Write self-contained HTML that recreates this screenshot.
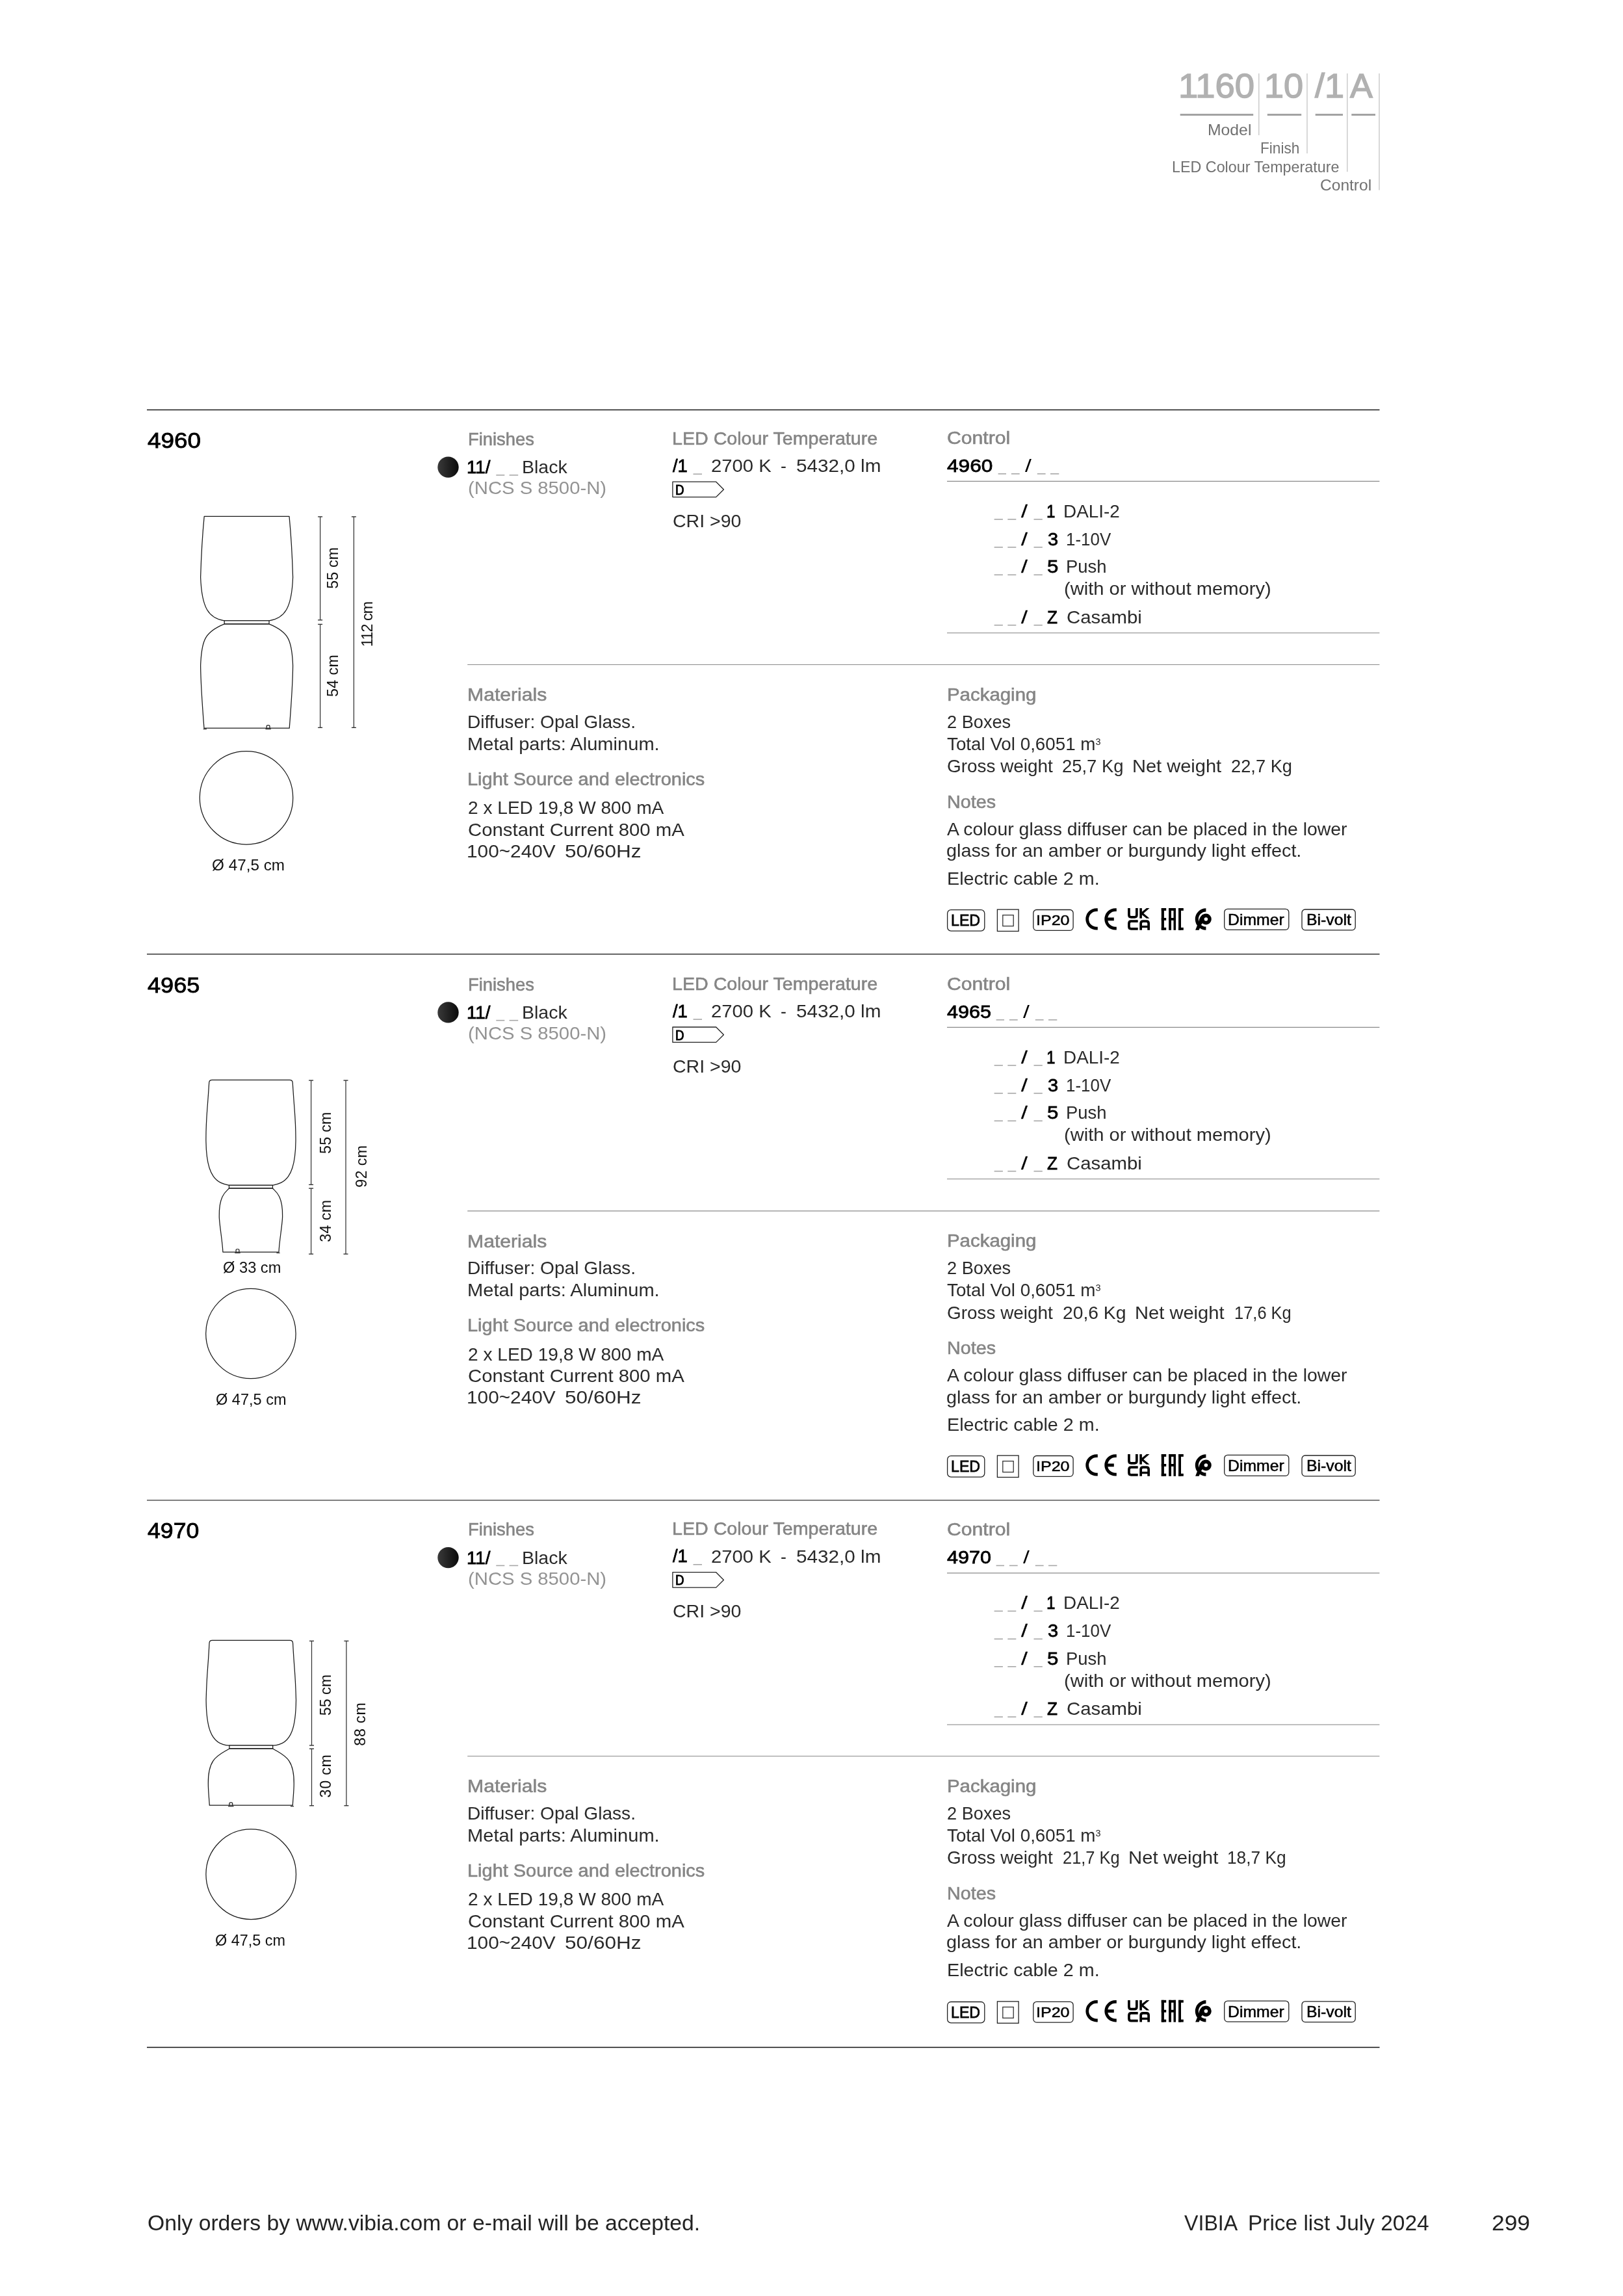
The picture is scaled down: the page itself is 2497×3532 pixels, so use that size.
<!DOCTYPE html>
<html><head><meta charset="utf-8"><title>VIBIA Price list 299</title>
<style>
html,body{margin:0;padding:0;background:#fff;}
body{width:2497px;height:3532px;position:relative;overflow:hidden;font-family:'Liberation Sans', sans-serif;}
.t{position:absolute;white-space:pre;line-height:1;transform-origin:0 0;}
#wrap{position:absolute;left:0;top:0;width:2497px;height:3532px;filter:grayscale(1);}
svg.pg{position:absolute;left:0;top:0;}
</style></head><body>
<div id="wrap">
<svg class="pg" width="2497" height="3532" viewBox="0 0 2497 3532">
<defs><linearGradient id="dotg" x1="0" y1="0" x2="1" y2="0"><stop offset="0" stop-color="#3a3a3a"/><stop offset="1" stop-color="#0a0a0a"/></linearGradient></defs>
<rect x="1815.7" y="175" width="112.5" height="3" fill="#a3a3a3"/>
<rect x="1949.8" y="175" width="52.40000000000009" height="3" fill="#a3a3a3"/>
<rect x="2023.7" y="175" width="42.299999999999955" height="3" fill="#a3a3a3"/>
<rect x="2079.3" y="175" width="36.69999999999982" height="3" fill="#a3a3a3"/>
<line x1="1936.8" y1="113" x2="1936.8" y2="207.9" stroke="#c4c4c4" stroke-width="1.3"/>
<line x1="2011" y1="113" x2="2011" y2="236.1" stroke="#c4c4c4" stroke-width="1.3"/>
<line x1="2072.8" y1="113" x2="2072.8" y2="264.2" stroke="#c4c4c4" stroke-width="1.3"/>
<line x1="2122" y1="113" x2="2122" y2="292.5" stroke="#c4c4c4" stroke-width="1.3"/>
<line x1="226" y1="630.5" x2="2122.5" y2="630.5" stroke="#1a1a1a" stroke-width="1.3"/>
<line x1="226" y1="1467.8" x2="2122.5" y2="1467.8" stroke="#333" stroke-width="1.4"/>
<line x1="226" y1="2307.9" x2="2122.5" y2="2307.9" stroke="#333" stroke-width="1.4"/>
<line x1="226" y1="3149.5" x2="2122.5" y2="3149.5" stroke="#111" stroke-width="1.3"/>
<rect x="763.3" y="730.1" width="13.0" height="1.6" fill="#a8a8a8"/>
<rect x="783.6" y="730.1" width="13.600000000000023" height="1.6" fill="#a8a8a8"/>
<rect x="1066.5" y="728.5" width="13.5" height="1.6" fill="#a8a8a8"/>
<rect x="1535.6" y="728.1" width="12.400000000000091" height="1.6" fill="#a8a8a8"/>
<rect x="1555.9" y="728.1" width="12.799999999999955" height="1.6" fill="#a8a8a8"/>
<rect x="1595.8" y="728.1" width="12.799999999999955" height="1.6" fill="#a8a8a8"/>
<rect x="1616.0" y="728.1" width="13.299999999999955" height="1.6" fill="#a8a8a8"/>
<line x1="1457" y1="740.3" x2="2122.4" y2="740.3" stroke="#8a8a8a" stroke-width="1.2"/>
<rect x="1529.6" y="798.1" width="13.300000000000182" height="1.6" fill="#a8a8a8"/>
<rect x="1550.3" y="798.1" width="13.0" height="1.6" fill="#a8a8a8"/>
<rect x="1590.5" y="798.1" width="13.299999999999955" height="1.6" fill="#a8a8a8"/>
<rect x="1529.6" y="841.0000000000001" width="13.300000000000182" height="1.6" fill="#a8a8a8"/>
<rect x="1550.3" y="841.0000000000001" width="13.0" height="1.6" fill="#a8a8a8"/>
<rect x="1590.5" y="841.0000000000001" width="13.299999999999955" height="1.6" fill="#a8a8a8"/>
<rect x="1529.6" y="883.5000000000001" width="13.300000000000182" height="1.6" fill="#a8a8a8"/>
<rect x="1550.3" y="883.5000000000001" width="13.0" height="1.6" fill="#a8a8a8"/>
<rect x="1590.5" y="883.5000000000001" width="13.299999999999955" height="1.6" fill="#a8a8a8"/>
<rect x="1529.6" y="960.9000000000001" width="13.300000000000182" height="1.6" fill="#a8a8a8"/>
<rect x="1550.3" y="960.9000000000001" width="13.0" height="1.6" fill="#a8a8a8"/>
<rect x="1590.5" y="960.9000000000001" width="13.299999999999955" height="1.6" fill="#a8a8a8"/>
<line x1="1457" y1="973.6" x2="2122.4" y2="973.6" stroke="#9a9a9a" stroke-width="1.2"/>
<line x1="719.2" y1="1022.5" x2="2122.4" y2="1022.5" stroke="#8a8a8a" stroke-width="1.2"/>
<rect x="763.3" y="1568.8999999999999" width="13.0" height="1.6" fill="#a8a8a8"/>
<rect x="783.6" y="1568.8999999999999" width="13.600000000000023" height="1.6" fill="#a8a8a8"/>
<rect x="1066.5" y="1567.3" width="13.5" height="1.6" fill="#a8a8a8"/>
<rect x="1532.6" y="1568.1000000000001" width="12.400000000000091" height="1.6" fill="#a8a8a8"/>
<rect x="1552.9" y="1568.1000000000001" width="12.799999999999955" height="1.6" fill="#a8a8a8"/>
<rect x="1592.8" y="1568.1000000000001" width="12.799999999999955" height="1.6" fill="#a8a8a8"/>
<rect x="1613.0" y="1568.1000000000001" width="13.299999999999955" height="1.6" fill="#a8a8a8"/>
<line x1="1457" y1="1580.3" x2="2122.4" y2="1580.3" stroke="#8a8a8a" stroke-width="1.2"/>
<rect x="1529.6" y="1638.1000000000001" width="13.300000000000182" height="1.6" fill="#a8a8a8"/>
<rect x="1550.3" y="1638.1000000000001" width="13.0" height="1.6" fill="#a8a8a8"/>
<rect x="1590.5" y="1638.1000000000001" width="13.299999999999955" height="1.6" fill="#a8a8a8"/>
<rect x="1529.6" y="1681.0000000000002" width="13.300000000000182" height="1.6" fill="#a8a8a8"/>
<rect x="1550.3" y="1681.0000000000002" width="13.0" height="1.6" fill="#a8a8a8"/>
<rect x="1590.5" y="1681.0000000000002" width="13.299999999999955" height="1.6" fill="#a8a8a8"/>
<rect x="1529.6" y="1723.5000000000002" width="13.300000000000182" height="1.6" fill="#a8a8a8"/>
<rect x="1550.3" y="1723.5000000000002" width="13.0" height="1.6" fill="#a8a8a8"/>
<rect x="1590.5" y="1723.5000000000002" width="13.299999999999955" height="1.6" fill="#a8a8a8"/>
<rect x="1529.6" y="1800.9" width="13.300000000000182" height="1.6" fill="#a8a8a8"/>
<rect x="1550.3" y="1800.9" width="13.0" height="1.6" fill="#a8a8a8"/>
<rect x="1590.5" y="1800.9" width="13.299999999999955" height="1.6" fill="#a8a8a8"/>
<line x1="1457" y1="1813.6" x2="2122.4" y2="1813.6" stroke="#9a9a9a" stroke-width="1.2"/>
<line x1="719.2" y1="1862.8" x2="2122.4" y2="1862.8" stroke="#8a8a8a" stroke-width="1.2"/>
<rect x="763.3" y="2407.6" width="13.0" height="1.6" fill="#a8a8a8"/>
<rect x="783.6" y="2407.6" width="13.600000000000023" height="1.6" fill="#a8a8a8"/>
<rect x="1066.5" y="2406.0" width="13.5" height="1.6" fill="#a8a8a8"/>
<rect x="1532.6" y="2407.6" width="12.400000000000091" height="1.6" fill="#a8a8a8"/>
<rect x="1552.9" y="2407.6" width="12.799999999999955" height="1.6" fill="#a8a8a8"/>
<rect x="1592.8" y="2407.6" width="12.799999999999955" height="1.6" fill="#a8a8a8"/>
<rect x="1613.0" y="2407.6" width="13.299999999999955" height="1.6" fill="#a8a8a8"/>
<line x1="1457" y1="2419.8" x2="2122.4" y2="2419.8" stroke="#8a8a8a" stroke-width="1.2"/>
<rect x="1529.6" y="2477.6" width="13.300000000000182" height="1.6" fill="#a8a8a8"/>
<rect x="1550.3" y="2477.6" width="13.0" height="1.6" fill="#a8a8a8"/>
<rect x="1590.5" y="2477.6" width="13.299999999999955" height="1.6" fill="#a8a8a8"/>
<rect x="1529.6" y="2520.5" width="13.300000000000182" height="1.6" fill="#a8a8a8"/>
<rect x="1550.3" y="2520.5" width="13.0" height="1.6" fill="#a8a8a8"/>
<rect x="1590.5" y="2520.5" width="13.299999999999955" height="1.6" fill="#a8a8a8"/>
<rect x="1529.6" y="2563.0" width="13.300000000000182" height="1.6" fill="#a8a8a8"/>
<rect x="1550.3" y="2563.0" width="13.0" height="1.6" fill="#a8a8a8"/>
<rect x="1590.5" y="2563.0" width="13.299999999999955" height="1.6" fill="#a8a8a8"/>
<rect x="1529.6" y="2640.3999999999996" width="13.300000000000182" height="1.6" fill="#a8a8a8"/>
<rect x="1550.3" y="2640.3999999999996" width="13.0" height="1.6" fill="#a8a8a8"/>
<rect x="1590.5" y="2640.3999999999996" width="13.299999999999955" height="1.6" fill="#a8a8a8"/>
<line x1="1457" y1="2653.1" x2="2122.4" y2="2653.1" stroke="#9a9a9a" stroke-width="1.2"/>
<line x1="719.2" y1="2701.5" x2="2122.4" y2="2701.5" stroke="#8a8a8a" stroke-width="1.2"/>
<path d="M 314.20,794.40 L 445.00,794.40 C 446.67,811.70 449.19,838.90 450.60,888.00 C 448.83,936.17 437.83,950.73 414.20,954.90 L 345.00,954.90 C 321.37,950.73 310.37,936.17 308.60,888.00 C 310.01,838.90 312.53,811.70 314.20,794.40 Z" fill="none" stroke="#1a1a1a" stroke-width="1.25" stroke-linejoin="round"/>
<rect x="345.20" y="954.80" width="68.80" height="5.10" fill="#fff" stroke="#1a1a1a" stroke-width="1.25"/>
<path d="M 413.90,959.90 C 443.76,972.10 449.21,984.14 450.60,1024.00 C 450.38,1048.11 447.87,1086.31 445.20,1120.20 L 314.00,1120.20 C 311.33,1086.31 308.82,1048.11 308.60,1024.00 C 309.99,984.14 315.44,972.10 345.30,959.90 Z" fill="none" stroke="#1a1a1a" stroke-width="1.25" stroke-linejoin="round"/>
<path d="M 410.20,1120.20 L 410.20,1117.40 Q 410.20,1115.60 412.60,1115.60 Q 415.00,1115.60 415.00,1117.40 L 415.00,1120.20" fill="none" stroke="#1a1a1a" stroke-width="1.2" stroke-linejoin="round"/>
<path d="M 408.40,1121.50 L 416.80,1121.50" fill="none" stroke="#1a1a1a" stroke-width="1.1" stroke-linejoin="round"/>
<path d="M 312.70,1121.50 L 317.90,1121.50" fill="none" stroke="#1a1a1a" stroke-width="1.1" stroke-linejoin="round"/>
<line x1="492.6" y1="794.9" x2="492.6" y2="953.8" stroke="#333" stroke-width="1.25"/>
<line x1="489.1" y1="794.9" x2="496.1" y2="794.9" stroke="#333" stroke-width="1.4"/>
<line x1="489.1" y1="953.8" x2="496.1" y2="953.8" stroke="#333" stroke-width="1.4"/>
<line x1="492.6" y1="960.4" x2="492.6" y2="1119.3" stroke="#333" stroke-width="1.25"/>
<line x1="489.1" y1="960.4" x2="496.1" y2="960.4" stroke="#333" stroke-width="1.4"/>
<line x1="489.1" y1="1119.3" x2="496.1" y2="1119.3" stroke="#333" stroke-width="1.4"/>
<line x1="544.4" y1="794.9" x2="544.4" y2="1119.3" stroke="#333" stroke-width="1.25"/>
<line x1="540.9" y1="794.9" x2="547.9" y2="794.9" stroke="#333" stroke-width="1.4"/>
<line x1="540.9" y1="1119.3" x2="547.9" y2="1119.3" stroke="#333" stroke-width="1.4"/>
<text transform="translate(520.30,873.80) rotate(-90)" text-anchor="middle" font-family="Liberation Sans" font-size="23.2" fill="#111" textLength="64.0" lengthAdjust="spacing">55 cm</text>
<text transform="translate(520.30,1039.60) rotate(-90)" text-anchor="middle" font-family="Liberation Sans" font-size="23.2" fill="#111" textLength="64.8" lengthAdjust="spacing">54 cm</text>
<text transform="translate(572.50,959.90) rotate(-90)" text-anchor="middle" font-family="Liberation Sans" font-size="23.2" fill="#111" textLength="70.1" lengthAdjust="spacing">112 cm</text>
<circle cx="379.0" cy="1227.3" r="71.7" fill="none" stroke="#1a1a1a" stroke-width="1.25"/>
<path d="M 321.65,1666.00 Q 321.65,1661.40 326.25,1661.40 L 445.65,1661.40 Q 450.25,1661.40 450.25,1666.00 C 453.25,1715.17 455.22,1721.34 455.00,1755.00 C 454.55,1812.98 436.93,1819.98 419.50,1823.30 L 352.40,1823.30 C 334.97,1819.98 317.35,1812.98 316.90,1755.00 C 316.68,1721.34 318.65,1715.17 321.65,1666.00 Z" fill="none" stroke="#1a1a1a" stroke-width="1.25" stroke-linejoin="round"/>
<rect x="352.45" y="1823.30" width="67.00" height="4.60" fill="#fff" stroke="#1a1a1a" stroke-width="1.25"/>
<path d="M 419.40,1827.90 C 421.80,1831.68 435.12,1836.40 434.60,1870.50 C 435.01,1879.94 429.47,1910.58 429.00,1926.10 L 342.90,1926.10 C 342.43,1910.58 336.89,1879.94 337.30,1870.50 C 336.78,1836.40 350.10,1831.68 352.50,1827.90 Z" fill="none" stroke="#1a1a1a" stroke-width="1.25" stroke-linejoin="round"/>
<path d="M 363.10,1926.10 L 363.10,1923.30 Q 363.10,1921.50 365.50,1921.50 Q 367.90,1921.50 367.90,1923.30 L 367.90,1926.10" fill="none" stroke="#1a1a1a" stroke-width="1.2" stroke-linejoin="round"/>
<path d="M 361.30,1927.40 L 369.70,1927.40" fill="none" stroke="#1a1a1a" stroke-width="1.1" stroke-linejoin="round"/>
<path d="M 425.40,1927.40 L 430.60,1927.40" fill="none" stroke="#1a1a1a" stroke-width="1.1" stroke-linejoin="round"/>
<line x1="478.6" y1="1662.0" x2="478.6" y2="1822.4" stroke="#333" stroke-width="1.25"/>
<line x1="475.1" y1="1662.0" x2="482.1" y2="1662.0" stroke="#333" stroke-width="1.4"/>
<line x1="475.1" y1="1822.4" x2="482.1" y2="1822.4" stroke="#333" stroke-width="1.4"/>
<line x1="478.6" y1="1828.1" x2="478.6" y2="1929.1" stroke="#333" stroke-width="1.25"/>
<line x1="475.1" y1="1828.1" x2="482.1" y2="1828.1" stroke="#333" stroke-width="1.4"/>
<line x1="475.1" y1="1929.1" x2="482.1" y2="1929.1" stroke="#333" stroke-width="1.4"/>
<line x1="532.0" y1="1662.0" x2="532.0" y2="1929.1" stroke="#333" stroke-width="1.25"/>
<line x1="528.5" y1="1662.0" x2="535.5" y2="1662.0" stroke="#333" stroke-width="1.4"/>
<line x1="528.5" y1="1929.1" x2="535.5" y2="1929.1" stroke="#333" stroke-width="1.4"/>
<text transform="translate(509.30,1742.80) rotate(-90)" text-anchor="middle" font-family="Liberation Sans" font-size="23.2" fill="#111" textLength="64.4" lengthAdjust="spacing">55 cm</text>
<text transform="translate(509.30,1878.30) rotate(-90)" text-anchor="middle" font-family="Liberation Sans" font-size="23.2" fill="#111" textLength="65.0" lengthAdjust="spacing">34 cm</text>
<text transform="translate(563.60,1794.30) rotate(-90)" text-anchor="middle" font-family="Liberation Sans" font-size="23.2" fill="#111" textLength="65.0" lengthAdjust="spacing">92 cm</text>
<circle cx="385.9" cy="2051.5" r="69.2" fill="none" stroke="#1a1a1a" stroke-width="1.25"/>
<path d="M 322.00,2528.00 Q 322.00,2523.40 326.60,2523.40 L 446.00,2523.40 Q 450.60,2523.40 450.60,2528.00 C 452.70,2570.54 454.25,2568.55 455.50,2615.00 C 455.14,2650.93 450.75,2684.47 420.20,2685.00 L 352.40,2685.00 C 321.85,2684.47 317.46,2650.93 317.10,2615.00 C 318.35,2568.55 319.90,2570.54 322.00,2528.00 Z" fill="none" stroke="#1a1a1a" stroke-width="1.25" stroke-linejoin="round"/>
<rect x="352.90" y="2685.00" width="66.80" height="4.90" fill="#fff" stroke="#1a1a1a" stroke-width="1.25"/>
<path d="M 419.70,2689.90 C 435.37,2700.12 452.90,2703.08 452.25,2744.10 C 452.25,2755.00 450.90,2766.00 450.30,2777.20 L 322.30,2777.20 C 321.70,2766.00 320.35,2755.00 320.35,2744.10 C 319.70,2703.08 337.23,2700.12 352.90,2689.90 Z" fill="none" stroke="#1a1a1a" stroke-width="1.25" stroke-linejoin="round"/>
<path d="M 352.90,2777.40 L 352.90,2774.60 Q 352.90,2772.80 355.30,2772.80 Q 357.70,2772.80 357.70,2774.60 L 357.70,2777.40" fill="none" stroke="#1a1a1a" stroke-width="1.2" stroke-linejoin="round"/>
<path d="M 351.10,2778.70 L 359.50,2778.70" fill="none" stroke="#1a1a1a" stroke-width="1.1" stroke-linejoin="round"/>
<path d="M 446.90,2778.70 L 452.10,2778.70" fill="none" stroke="#1a1a1a" stroke-width="1.1" stroke-linejoin="round"/>
<line x1="479.5" y1="2524.4" x2="479.5" y2="2685.0" stroke="#333" stroke-width="1.25"/>
<line x1="476.0" y1="2524.4" x2="483.0" y2="2524.4" stroke="#333" stroke-width="1.4"/>
<line x1="476.0" y1="2685.0" x2="483.0" y2="2685.0" stroke="#333" stroke-width="1.4"/>
<line x1="479.5" y1="2690.2" x2="479.5" y2="2777.7" stroke="#333" stroke-width="1.25"/>
<line x1="476.0" y1="2690.2" x2="483.0" y2="2690.2" stroke="#333" stroke-width="1.4"/>
<line x1="476.0" y1="2777.7" x2="483.0" y2="2777.7" stroke="#333" stroke-width="1.4"/>
<line x1="532.9" y1="2524.4" x2="532.9" y2="2777.7" stroke="#333" stroke-width="1.25"/>
<line x1="529.4" y1="2524.4" x2="536.4" y2="2524.4" stroke="#333" stroke-width="1.4"/>
<line x1="529.4" y1="2777.7" x2="536.4" y2="2777.7" stroke="#333" stroke-width="1.4"/>
<text transform="translate(509.40,2607.60) rotate(-90)" text-anchor="middle" font-family="Liberation Sans" font-size="23.2" fill="#111" textLength="63.4" lengthAdjust="spacing">55 cm</text>
<text transform="translate(509.40,2732.30) rotate(-90)" text-anchor="middle" font-family="Liberation Sans" font-size="23.2" fill="#111" textLength="66.5" lengthAdjust="spacing">30 cm</text>
<text transform="translate(562.40,2652.40) rotate(-90)" text-anchor="middle" font-family="Liberation Sans" font-size="23.2" fill="#111" textLength="66.5" lengthAdjust="spacing">88 cm</text>
<circle cx="386.2" cy="2883.2" r="69.3" fill="none" stroke="#1a1a1a" stroke-width="1.25"/>
<circle cx="689.5" cy="718.6" r="16.2" fill="url(#dotg)"/>
<path d="M 1034.9,741.2 L 1101.7,741.2 L 1113.4,753 L 1101.7,764.6 L 1034.9,764.6 Z" fill="none" stroke="#222" stroke-width="1.3" stroke-linejoin="round"/>
<rect x="1457.6" y="1399.7" width="57.2" height="32.4" rx="5.5" fill="none" stroke="#222" stroke-width="1.3"/>
<rect x="1534.4" y="1399.1" width="32.7" height="33.4" fill="none" stroke="#222" stroke-width="1.3"/>
<rect x="1542.8" y="1407.7" width="16.4" height="16.9" fill="none" stroke="#333" stroke-width="1.3"/>
<rect x="1589.8" y="1399.5" width="61.3" height="31.8" rx="5" fill="none" stroke="#222" stroke-width="1.3"/>
<path d="M 1688.8,1397.2 L 1687.0,1397.2 A 16.7 16.7 0 0 0 1687.0,1430.6 L 1688.8,1430.6 L 1688.8,1425.8 L 1687.0,1425.8 A 11.9 11.9 0 0 1 1687.0,1402.0 L 1688.8,1402.0 Z" fill="#000"/>
<path d="M 1717.8,1397.2 L 1716.0,1397.2 A 16.7 16.7 0 0 0 1716.0,1430.6 L 1717.8,1430.6 L 1717.8,1425.8 L 1716.0,1425.8 A 11.9 11.9 0 0 1 1716.0,1402.0 L 1717.8,1402.0 Z" fill="#000"/>
<rect x="1703.2" y="1411.5" width="10.6" height="4.8" fill="#000"/>
<path d="M 1736.95,1397.1 V 1407.5 Q 1736.95,1410.85 1740.3,1410.85 H 1745.5 Q 1748.85,1410.85 1748.85,1407.5 V 1397.1" fill="none" stroke="#000" stroke-width="3.7"/>
<rect x="1753.3" y="1397.1" width="3.6" height="15.6" fill="#000"/>
<path d="M 1756.5,1402.9 L 1763.9,1397.1 L 1768.5,1397.1 L 1759.4,1404.9 L 1768.5,1412.7 L 1763.9,1412.7 L 1756.5,1406.9 Z" fill="#000"/>
<path d="M 1750.7,1417.15 H 1740.3 Q 1736.95,1417.15 1736.95,1420.5 V 1425.5 Q 1736.95,1428.85 1740.3,1428.85 H 1750.7" fill="none" stroke="#000" stroke-width="3.7"/>
<path d="M 1755.15,1430.7 V 1420.5 Q 1755.15,1417.15 1758.5,1417.15 H 1763.8 Q 1767.15,1417.15 1767.15,1420.5 V 1430.7" fill="none" stroke="#000" stroke-width="3.7"/>
<rect x="1755" y="1423.9" width="12" height="3.3" fill="#000"/>
<rect x="1786.8" y="1397.0" width="4.1" height="33.8" fill="#000"/>
<rect x="1798.1" y="1397.0" width="3.9" height="33.8" fill="#000"/>
<rect x="1805.5" y="1397.0" width="3.5" height="33.8" fill="#000"/>
<rect x="1813.1" y="1397.0" width="3.9" height="33.8" fill="#000"/>
<rect x="1786.8" y="1397.0" width="7.4" height="3.9" fill="#000"/>
<rect x="1786.8" y="1412.0" width="7.4" height="3.9" fill="#000"/>
<rect x="1786.8" y="1426.9" width="7.4" height="3.9" fill="#000"/>
<rect x="1798.1" y="1397.0" width="10.9" height="3.9" fill="#000"/>
<rect x="1798.1" y="1412.0" width="10.9" height="3.9" fill="#000"/>
<rect x="1813.1" y="1397.0" width="7.7" height="3.9" fill="#000"/>
<rect x="1813.1" y="1426.9" width="7.7" height="3.9" fill="#000"/>
<path d="M 1855.4,1397.3 A 16.7 16.7 0 0 0 1855.4,1430.7 L 1855.4,1425.5 A 11.5 11.5 0 0 1 1855.4,1402.5 Z" fill="#000"/>
<circle cx="1855.4" cy="1414.0" r="5.6" fill="none" stroke="#000" stroke-width="5.6"/>
<path d="M 1850.5,1406.3 L 1846.8,1410.5 L 1845.3,1413.5 L 1844.3,1417.2 L 1841.8,1424.1 L 1839.1,1430.7 L 1844.6,1430.7 L 1848.2,1422.5 L 1850.5,1419.5 Z" fill="#000"/>
<rect x="1883.7" y="1398.3" width="99.1" height="32.0" rx="5" fill="none" stroke="#222" stroke-width="1.3"/>
<rect x="2003.0" y="1399.0" width="82.2" height="31.8" rx="5" fill="none" stroke="#222" stroke-width="1.3"/>
<circle cx="689.5" cy="1557.4" r="16.2" fill="url(#dotg)"/>
<path d="M 1034.9,1580.0 L 1101.7,1580.0 L 1113.4,1591.8 L 1101.7,1603.4 L 1034.9,1603.4 Z" fill="none" stroke="#222" stroke-width="1.3" stroke-linejoin="round"/>
<rect x="1457.6" y="2239.7" width="57.2" height="32.4" rx="5.5" fill="none" stroke="#222" stroke-width="1.3"/>
<rect x="1534.4" y="2239.1" width="32.7" height="33.4" fill="none" stroke="#222" stroke-width="1.3"/>
<rect x="1542.8" y="2247.7" width="16.4" height="16.9" fill="none" stroke="#333" stroke-width="1.3"/>
<rect x="1589.8" y="2239.5" width="61.3" height="31.8" rx="5" fill="none" stroke="#222" stroke-width="1.3"/>
<path d="M 1688.8,2237.2 L 1687.0,2237.2 A 16.7 16.7 0 0 0 1687.0,2270.6 L 1688.8,2270.6 L 1688.8,2265.8 L 1687.0,2265.8 A 11.9 11.9 0 0 1 1687.0,2242.0 L 1688.8,2242.0 Z" fill="#000"/>
<path d="M 1717.8,2237.2 L 1716.0,2237.2 A 16.7 16.7 0 0 0 1716.0,2270.6 L 1717.8,2270.6 L 1717.8,2265.8 L 1716.0,2265.8 A 11.9 11.9 0 0 1 1716.0,2242.0 L 1717.8,2242.0 Z" fill="#000"/>
<rect x="1703.2" y="2251.5" width="10.6" height="4.8" fill="#000"/>
<path d="M 1736.95,2237.1 V 2247.5 Q 1736.95,2250.85 1740.3,2250.85 H 1745.5 Q 1748.85,2250.85 1748.85,2247.5 V 2237.1" fill="none" stroke="#000" stroke-width="3.7"/>
<rect x="1753.3" y="2237.1" width="3.6" height="15.6" fill="#000"/>
<path d="M 1756.5,2242.9 L 1763.9,2237.1 L 1768.5,2237.1 L 1759.4,2244.9 L 1768.5,2252.7 L 1763.9,2252.7 L 1756.5,2246.9 Z" fill="#000"/>
<path d="M 1750.7,2257.15 H 1740.3 Q 1736.95,2257.15 1736.95,2260.5 V 2265.5 Q 1736.95,2268.85 1740.3,2268.85 H 1750.7" fill="none" stroke="#000" stroke-width="3.7"/>
<path d="M 1755.15,2270.7 V 2260.5 Q 1755.15,2257.15 1758.5,2257.15 H 1763.8 Q 1767.15,2257.15 1767.15,2260.5 V 2270.7" fill="none" stroke="#000" stroke-width="3.7"/>
<rect x="1755" y="2263.9" width="12" height="3.3" fill="#000"/>
<rect x="1786.8" y="2237.0" width="4.1" height="33.8" fill="#000"/>
<rect x="1798.1" y="2237.0" width="3.9" height="33.8" fill="#000"/>
<rect x="1805.5" y="2237.0" width="3.5" height="33.8" fill="#000"/>
<rect x="1813.1" y="2237.0" width="3.9" height="33.8" fill="#000"/>
<rect x="1786.8" y="2237.0" width="7.4" height="3.9" fill="#000"/>
<rect x="1786.8" y="2252.0" width="7.4" height="3.9" fill="#000"/>
<rect x="1786.8" y="2266.9" width="7.4" height="3.9" fill="#000"/>
<rect x="1798.1" y="2237.0" width="10.9" height="3.9" fill="#000"/>
<rect x="1798.1" y="2252.0" width="10.9" height="3.9" fill="#000"/>
<rect x="1813.1" y="2237.0" width="7.7" height="3.9" fill="#000"/>
<rect x="1813.1" y="2266.9" width="7.7" height="3.9" fill="#000"/>
<path d="M 1855.4,2237.3 A 16.7 16.7 0 0 0 1855.4,2270.7 L 1855.4,2265.5 A 11.5 11.5 0 0 1 1855.4,2242.5 Z" fill="#000"/>
<circle cx="1855.4" cy="2254.0" r="5.6" fill="none" stroke="#000" stroke-width="5.6"/>
<path d="M 1850.5,2246.3 L 1846.8,2250.5 L 1845.3,2253.5 L 1844.3,2257.2 L 1841.8,2264.1 L 1839.1,2270.7 L 1844.6,2270.7 L 1848.2,2262.5 L 1850.5,2259.5 Z" fill="#000"/>
<rect x="1883.7" y="2238.3" width="99.1" height="32.0" rx="5" fill="none" stroke="#222" stroke-width="1.3"/>
<rect x="2003.0" y="2239.0" width="82.2" height="31.8" rx="5" fill="none" stroke="#222" stroke-width="1.3"/>
<circle cx="689.5" cy="2396.1" r="16.2" fill="url(#dotg)"/>
<path d="M 1034.9,2418.7 L 1101.7,2418.7 L 1113.4,2430.5 L 1101.7,2442.1 L 1034.9,2442.1 Z" fill="none" stroke="#222" stroke-width="1.3" stroke-linejoin="round"/>
<rect x="1457.6" y="3079.5" width="57.2" height="32.4" rx="5.5" fill="none" stroke="#222" stroke-width="1.3"/>
<rect x="1534.4" y="3078.9" width="32.7" height="33.4" fill="none" stroke="#222" stroke-width="1.3"/>
<rect x="1542.8" y="3087.5" width="16.4" height="16.9" fill="none" stroke="#333" stroke-width="1.3"/>
<rect x="1589.8" y="3079.3" width="61.3" height="31.8" rx="5" fill="none" stroke="#222" stroke-width="1.3"/>
<path d="M 1688.8,3077.0 L 1687.0,3077.0 A 16.7 16.7 0 0 0 1687.0,3110.4 L 1688.8,3110.4 L 1688.8,3105.6 L 1687.0,3105.6 A 11.9 11.9 0 0 1 1687.0,3081.8 L 1688.8,3081.8 Z" fill="#000"/>
<path d="M 1717.8,3077.0 L 1716.0,3077.0 A 16.7 16.7 0 0 0 1716.0,3110.4 L 1717.8,3110.4 L 1717.8,3105.6 L 1716.0,3105.6 A 11.9 11.9 0 0 1 1716.0,3081.8 L 1717.8,3081.8 Z" fill="#000"/>
<rect x="1703.2" y="3091.3" width="10.6" height="4.8" fill="#000"/>
<path d="M 1736.95,3076.8999999999996 V 3087.3 Q 1736.95,3090.6499999999996 1740.3,3090.6499999999996 H 1745.5 Q 1748.85,3090.6499999999996 1748.85,3087.3 V 3076.8999999999996" fill="none" stroke="#000" stroke-width="3.7"/>
<rect x="1753.3" y="3076.8999999999996" width="3.6" height="15.6" fill="#000"/>
<path d="M 1756.5,3082.7 L 1763.9,3076.8999999999996 L 1768.5,3076.8999999999996 L 1759.4,3084.7 L 1768.5,3092.5 L 1763.9,3092.5 L 1756.5,3086.7 Z" fill="#000"/>
<path d="M 1750.7,3096.95 H 1740.3 Q 1736.95,3096.95 1736.95,3100.3 V 3105.3 Q 1736.95,3108.6499999999996 1740.3,3108.6499999999996 H 1750.7" fill="none" stroke="#000" stroke-width="3.7"/>
<path d="M 1755.15,3110.5 V 3100.3 Q 1755.15,3096.95 1758.5,3096.95 H 1763.8 Q 1767.15,3096.95 1767.15,3100.3 V 3110.5" fill="none" stroke="#000" stroke-width="3.7"/>
<rect x="1755" y="3103.7" width="12" height="3.3" fill="#000"/>
<rect x="1786.8" y="3076.8" width="4.1" height="33.8" fill="#000"/>
<rect x="1798.1" y="3076.8" width="3.9" height="33.8" fill="#000"/>
<rect x="1805.5" y="3076.8" width="3.5" height="33.8" fill="#000"/>
<rect x="1813.1" y="3076.8" width="3.9" height="33.8" fill="#000"/>
<rect x="1786.8" y="3076.8" width="7.4" height="3.9" fill="#000"/>
<rect x="1786.8" y="3091.8" width="7.4" height="3.9" fill="#000"/>
<rect x="1786.8" y="3106.7" width="7.4" height="3.9" fill="#000"/>
<rect x="1798.1" y="3076.8" width="10.9" height="3.9" fill="#000"/>
<rect x="1798.1" y="3091.8" width="10.9" height="3.9" fill="#000"/>
<rect x="1813.1" y="3076.8" width="7.7" height="3.9" fill="#000"/>
<rect x="1813.1" y="3106.7" width="7.7" height="3.9" fill="#000"/>
<path d="M 1855.4,3077.1 A 16.7 16.7 0 0 0 1855.4,3110.5 L 1855.4,3105.3 A 11.5 11.5 0 0 1 1855.4,3082.3 Z" fill="#000"/>
<circle cx="1855.4" cy="3093.8" r="5.6" fill="none" stroke="#000" stroke-width="5.6"/>
<path d="M 1850.5,3086.1 L 1846.8,3090.3 L 1845.3,3093.3 L 1844.3,3097.0 L 1841.8,3103.9 L 1839.1,3110.5 L 1844.6,3110.5 L 1848.2,3102.3 L 1850.5,3099.3 Z" fill="#000"/>
<rect x="1883.7" y="3078.1" width="99.1" height="32.0" rx="5" fill="none" stroke="#222" stroke-width="1.3"/>
<rect x="2003.0" y="3078.8" width="82.2" height="31.8" rx="5" fill="none" stroke="#222" stroke-width="1.3"/>
</svg>

<div id="t0" class="t" style="left:1813.16px;top:105.60px;font-size:52px;color:#b1b1b1;letter-spacing:0.000px;-webkit-text-stroke:1.4px #b1b1b1;transform:scaleX(1.0468);">1160</div>
<div id="t1" class="t" style="left:1944.58px;top:105.60px;font-size:52px;color:#b1b1b1;letter-spacing:0.000px;-webkit-text-stroke:1.4px #b1b1b1;transform:scaleX(1.0412);">10</div>
<div id="t2" class="t" style="left:2022.50px;top:105.60px;font-size:52px;color:#b1b1b1;letter-spacing:-0.000px;-webkit-text-stroke:1.4px #b1b1b1;transform:scaleX(1.0399);">/1</div>
<div id="t3" class="t" style="left:2077.00px;top:105.60px;font-size:52px;color:#b1b1b1;letter-spacing:0.000px;-webkit-text-stroke:1.4px #b1b1b1;transform:scaleX(1.0057);">A</div>
<div id="t4" class="t" style="left:1858.06px;top:187.90px;font-size:23.8px;color:#707070;letter-spacing:0.000px;transform:scaleX(1.0395);">Model</div>
<div id="t5" class="t" style="left:1938.85px;top:215.90px;font-size:23.8px;color:#707070;letter-spacing:0.000px;transform:scaleX(0.9503);">Finish</div>
<div id="t6" class="t" style="left:1802.62px;top:244.80px;font-size:23.8px;color:#707070;letter-spacing:0.000px;transform:scaleX(0.9795);">LED Colour Temperature</div>
<div id="t7" class="t" style="left:2030.97px;top:272.50px;font-size:23.8px;color:#707070;letter-spacing:0.000px;transform:scaleX(1.0319);">Control</div>
<div id="t8" class="t" style="left:226.58px;top:3402.80px;font-size:33px;color:#222;letter-spacing:-0.000px;transform:scaleX(1.0210);">Only orders by www.vibia.com or e-mail will be accepted.</div>
<div id="t9" class="t" style="left:1822.00px;top:3402.80px;font-size:33px;color:#222;letter-spacing:0.000px;transform:scaleX(0.9744);">VIBIA</div>
<div id="t10" class="t" style="left:1920.07px;top:3402.80px;font-size:33px;color:#222;letter-spacing:0.000px;transform:scaleX(1.0126);">Price list July 2024</div>
<div id="t11" class="t" style="left:2295.43px;top:3402.80px;font-size:33px;color:#222;letter-spacing:0.000px;transform:scaleX(1.0720);">299</div>
<div id="t12" class="t" style="left:226.50px;top:660.90px;font-size:33px;color:#000;letter-spacing:0.000px;-webkit-text-stroke:0.8px #000;transform:scaleX(1.1183);">4960</div>
<div id="t13" class="t" style="left:720.08px;top:660.90px;font-size:28.5px;color:#858585;letter-spacing:0.000px;-webkit-text-stroke:0.6px #858585;transform:scaleX(0.9608);">Finishes</div>
<div id="t14" class="t" style="left:717.76px;top:704.00px;font-size:28.5px;color:#000;letter-spacing:0.000px;-webkit-text-stroke:0.8px #000;transform:scaleX(0.9723);">11/</div>
<div id="t15" class="t" style="left:803.20px;top:704.00px;font-size:28.5px;color:#2a2a2a;letter-spacing:0.000px;transform:scaleX(1.0009);">Black</div>
<div id="t16" class="t" style="left:719.77px;top:736.40px;font-size:28.5px;color:#939393;letter-spacing:0.000px;transform:scaleX(1.0269);">(NCS S 8500-N)</div>
<div id="t17" class="t" style="left:1033.69px;top:659.90px;font-size:28.5px;color:#858585;letter-spacing:0.000px;-webkit-text-stroke:0.6px #858585;transform:scaleX(1.0046);">LED Colour Temperature</div>
<div id="t18" class="t" style="left:1035.20px;top:701.90px;font-size:28.5px;color:#000;letter-spacing:0.000px;-webkit-text-stroke:0.8px #000;transform:scaleX(0.9599);">/1</div>
<div id="t19" class="t" style="left:1093.87px;top:702.30px;font-size:28.5px;color:#2a2a2a;letter-spacing:0.000px;transform:scaleX(1.0267);">2700 K</div>
<div id="t20" class="t" style="left:1201.06px;top:702.30px;font-size:28.5px;color:#2a2a2a;letter-spacing:0.000px;transform:scaleX(0.9375);">-</div>
<div id="t21" class="t" style="left:1225.16px;top:702.30px;font-size:28.5px;color:#2a2a2a;letter-spacing:0.000px;transform:scaleX(1.0415);">5432,0 lm</div>
<div id="t22" class="t" style="left:1034.70px;top:786.80px;font-size:28.5px;color:#2a2a2a;letter-spacing:-0.000px;transform:scaleX(1.0010);">CRI &gt;90</div>
<div id="t23" class="t" style="left:1456.64px;top:658.90px;font-size:28.5px;color:#858585;letter-spacing:0.000px;-webkit-text-stroke:0.6px #858585;transform:scaleX(1.0576);">Control</div>
<div id="t24" class="t" style="left:1457.40px;top:701.50px;font-size:28.5px;color:#000;letter-spacing:0.000px;-webkit-text-stroke:0.8px #000;transform:scaleX(1.1095);">4960</div>
<div id="t25" class="t" style="left:1576.60px;top:701.50px;font-size:28.5px;color:#000;letter-spacing:0.000px;transform:scaleX(1.2500);">/</div>
<div id="t26" class="t" style="left:1571.00px;top:771.80px;font-size:28.5px;color:#000;letter-spacing:0.000px;-webkit-text-stroke:0.3px #000;transform:scaleX(1.2500);">/</div>
<div id="t27" class="t" style="left:1609.50px;top:771.80px;font-size:28.5px;color:#000;letter-spacing:0.000px;-webkit-text-stroke:0.8px #000;transform:scaleX(0.8500);">1</div>
<div id="t28" class="t" style="left:1636.34px;top:771.80px;font-size:28.5px;color:#2a2a2a;letter-spacing:0.000px;transform:scaleX(0.9784);">DALI-2</div>
<div id="t29" class="t" style="left:1571.00px;top:814.70px;font-size:28.5px;color:#000;letter-spacing:0.000px;-webkit-text-stroke:0.3px #000;transform:scaleX(1.2500);">/</div>
<div id="t30" class="t" style="left:1611.69px;top:814.70px;font-size:28.5px;color:#000;letter-spacing:0.000px;-webkit-text-stroke:0.8px #000;transform:scaleX(1.0143);">3</div>
<div id="t31" class="t" style="left:1639.78px;top:814.70px;font-size:28.5px;color:#2a2a2a;letter-spacing:0.000px;transform:scaleX(0.9103);">1-10V</div>
<div id="t32" class="t" style="left:1571.00px;top:857.20px;font-size:28.5px;color:#000;letter-spacing:0.000px;-webkit-text-stroke:0.3px #000;transform:scaleX(1.2500);">/</div>
<div id="t33" class="t" style="left:1610.51px;top:857.20px;font-size:28.5px;color:#000;letter-spacing:0.000px;-webkit-text-stroke:0.8px #000;transform:scaleX(1.0929);">5</div>
<div id="t34" class="t" style="left:1639.98px;top:857.20px;font-size:28.5px;color:#2a2a2a;letter-spacing:0.000px;transform:scaleX(0.9606);">Push</div>
<div id="t35" class="t" style="left:1571.00px;top:934.60px;font-size:28.5px;color:#000;letter-spacing:0.000px;-webkit-text-stroke:0.3px #000;transform:scaleX(1.2500);">/</div>
<div id="t36" class="t" style="left:1611.30px;top:934.60px;font-size:28.5px;color:#000;letter-spacing:0.000px;-webkit-text-stroke:0.8px #000;transform:scaleX(0.9176);">Z</div>
<div id="t37" class="t" style="left:1640.87px;top:934.60px;font-size:28.5px;color:#2a2a2a;letter-spacing:0.000px;transform:scaleX(1.0298);">Casambi</div>
<div id="t38" class="t" style="left:1636.58px;top:891.20px;font-size:28.5px;color:#2a2a2a;letter-spacing:0.000px;transform:scaleX(1.0213);">(with or without memory)</div>
<div id="t39" class="t" style="left:718.98px;top:1054.30px;font-size:28.5px;color:#858585;letter-spacing:0.000px;-webkit-text-stroke:0.6px #858585;transform:scaleX(1.0585);">Materials</div>
<div id="t40" class="t" style="left:719.13px;top:1096.00px;font-size:28.5px;color:#2a2a2a;letter-spacing:0.000px;transform:scaleX(0.9869);">Diffuser: Opal Glass.</div>
<div id="t41" class="t" style="left:719.06px;top:1130.00px;font-size:28.5px;color:#2a2a2a;letter-spacing:0.000px;transform:scaleX(1.0201);">Metal parts: Aluminum.</div>
<div id="t42" class="t" style="left:719.07px;top:1184.00px;font-size:28.5px;color:#858585;letter-spacing:0.000px;-webkit-text-stroke:0.6px #858585;transform:scaleX(1.0157);">Light Source and electronics</div>
<div id="t43" class="t" style="left:720.01px;top:1228.30px;font-size:28.5px;color:#2a2a2a;letter-spacing:0.000px;transform:scaleX(0.9855);">2 x LED 19,8 W 800 mA</div>
<div id="t44" class="t" style="left:719.97px;top:1261.50px;font-size:28.5px;color:#2a2a2a;letter-spacing:0.000px;transform:scaleX(1.0300);">Constant Current 800 mA</div>
<div id="t45" class="t" style="left:717.71px;top:1294.80px;font-size:28.5px;color:#2a2a2a;letter-spacing:0.000px;transform:scaleX(1.0455);">100~240V</div>
<div id="t46" class="t" style="left:868.79px;top:1294.80px;font-size:28.5px;color:#2a2a2a;letter-spacing:-0.000px;transform:scaleX(1.1078);">50/60Hz</div>
<div id="t47" class="t" style="left:1456.64px;top:1054.00px;font-size:28.5px;color:#858585;letter-spacing:0.000px;-webkit-text-stroke:0.6px #858585;transform:scaleX(1.0319);">Packaging</div>
<div id="t48" class="t" style="left:1456.95px;top:1096.00px;font-size:28.5px;color:#2a2a2a;letter-spacing:0.000px;transform:scaleX(0.9535);">2 Boxes</div>
<div id="t49" class="t" style="left:1457.20px;top:1129.90px;font-size:28.5px;color:#2a2a2a;letter-spacing:0.000px;transform:scaleX(0.9744);">Total Vol 0,6051 m<span style="font-size:0.52em;position:relative;top:-0.52em">3</span></div>
<div id="t50" class="t" style="left:1456.92px;top:1164.40px;font-size:28.5px;color:#2a2a2a;letter-spacing:0.000px;transform:scaleX(0.9789);">Gross weight</div>
<div id="t51" class="t" style="left:1634.34px;top:1164.40px;font-size:28.5px;color:#2a2a2a;letter-spacing:0.000px;transform:scaleX(0.9617);">25,7 Kg</div>
<div id="t52" class="t" style="left:1741.76px;top:1164.40px;font-size:28.5px;color:#2a2a2a;letter-spacing:0.000px;transform:scaleX(1.0186);">Net weight</div>
<div id="t53" class="t" style="left:1893.84px;top:1164.40px;font-size:28.5px;color:#2a2a2a;letter-spacing:0.000px;transform:scaleX(0.9565);">22,7 Kg</div>
<div id="t54" class="t" style="left:1457.08px;top:1218.70px;font-size:28.5px;color:#858585;letter-spacing:0.000px;-webkit-text-stroke:0.6px #858585;transform:scaleX(1.0083);">Notes</div>
<div id="t55" class="t" style="left:1457.30px;top:1261.00px;font-size:28.5px;color:#2a2a2a;letter-spacing:0.000px;transform:scaleX(0.9971);">A colour glass diffuser can be placed in the lower</div>
<div id="t56" class="t" style="left:1456.29px;top:1294.40px;font-size:28.5px;color:#2a2a2a;letter-spacing:0.000px;transform:scaleX(1.0094);">glass for an amber or burgundy light effect.</div>
<div id="t57" class="t" style="left:1456.58px;top:1336.90px;font-size:28.5px;color:#2a2a2a;letter-spacing:0.000px;transform:scaleX(1.0078);">Electric cable 2 m.</div>
<div id="t58" class="t" style="left:226.50px;top:1499.10px;font-size:33px;color:#000;letter-spacing:0.000px;-webkit-text-stroke:0.8px #000;transform:scaleX(1.0949);">4965</div>
<div id="t59" class="t" style="left:720.08px;top:1499.70px;font-size:28.5px;color:#858585;letter-spacing:0.000px;-webkit-text-stroke:0.6px #858585;transform:scaleX(0.9608);">Finishes</div>
<div id="t60" class="t" style="left:717.76px;top:1542.80px;font-size:28.5px;color:#000;letter-spacing:0.000px;-webkit-text-stroke:0.8px #000;transform:scaleX(0.9723);">11/</div>
<div id="t61" class="t" style="left:803.20px;top:1542.80px;font-size:28.5px;color:#2a2a2a;letter-spacing:0.000px;transform:scaleX(1.0009);">Black</div>
<div id="t62" class="t" style="left:719.77px;top:1575.20px;font-size:28.5px;color:#939393;letter-spacing:0.000px;transform:scaleX(1.0269);">(NCS S 8500-N)</div>
<div id="t63" class="t" style="left:1033.69px;top:1498.70px;font-size:28.5px;color:#858585;letter-spacing:0.000px;-webkit-text-stroke:0.6px #858585;transform:scaleX(1.0046);">LED Colour Temperature</div>
<div id="t64" class="t" style="left:1035.20px;top:1540.70px;font-size:28.5px;color:#000;letter-spacing:0.000px;-webkit-text-stroke:0.8px #000;transform:scaleX(0.9599);">/1</div>
<div id="t65" class="t" style="left:1093.87px;top:1541.10px;font-size:28.5px;color:#2a2a2a;letter-spacing:0.000px;transform:scaleX(1.0267);">2700 K</div>
<div id="t66" class="t" style="left:1201.06px;top:1541.10px;font-size:28.5px;color:#2a2a2a;letter-spacing:0.000px;transform:scaleX(0.9375);">-</div>
<div id="t67" class="t" style="left:1225.16px;top:1541.10px;font-size:28.5px;color:#2a2a2a;letter-spacing:0.000px;transform:scaleX(1.0415);">5432,0 lm</div>
<div id="t68" class="t" style="left:1034.70px;top:1625.60px;font-size:28.5px;color:#2a2a2a;letter-spacing:-0.000px;transform:scaleX(1.0010);">CRI &gt;90</div>
<div id="t69" class="t" style="left:1456.64px;top:1498.90px;font-size:28.5px;color:#858585;letter-spacing:0.000px;-webkit-text-stroke:0.6px #858585;transform:scaleX(1.0576);">Control</div>
<div id="t70" class="t" style="left:1457.40px;top:1541.50px;font-size:28.5px;color:#000;letter-spacing:0.000px;-webkit-text-stroke:0.8px #000;transform:scaleX(1.0711);">4965</div>
<div id="t71" class="t" style="left:1573.60px;top:1541.50px;font-size:28.5px;color:#000;letter-spacing:0.000px;transform:scaleX(1.2500);">/</div>
<div id="t72" class="t" style="left:1571.00px;top:1611.80px;font-size:28.5px;color:#000;letter-spacing:0.000px;-webkit-text-stroke:0.3px #000;transform:scaleX(1.2500);">/</div>
<div id="t73" class="t" style="left:1609.50px;top:1611.80px;font-size:28.5px;color:#000;letter-spacing:0.000px;-webkit-text-stroke:0.8px #000;transform:scaleX(0.8500);">1</div>
<div id="t74" class="t" style="left:1636.34px;top:1611.80px;font-size:28.5px;color:#2a2a2a;letter-spacing:0.000px;transform:scaleX(0.9784);">DALI-2</div>
<div id="t75" class="t" style="left:1571.00px;top:1654.70px;font-size:28.5px;color:#000;letter-spacing:0.000px;-webkit-text-stroke:0.3px #000;transform:scaleX(1.2500);">/</div>
<div id="t76" class="t" style="left:1611.69px;top:1654.70px;font-size:28.5px;color:#000;letter-spacing:0.000px;-webkit-text-stroke:0.8px #000;transform:scaleX(1.0143);">3</div>
<div id="t77" class="t" style="left:1639.78px;top:1654.70px;font-size:28.5px;color:#2a2a2a;letter-spacing:0.000px;transform:scaleX(0.9103);">1-10V</div>
<div id="t78" class="t" style="left:1571.00px;top:1697.20px;font-size:28.5px;color:#000;letter-spacing:0.000px;-webkit-text-stroke:0.3px #000;transform:scaleX(1.2500);">/</div>
<div id="t79" class="t" style="left:1610.51px;top:1697.20px;font-size:28.5px;color:#000;letter-spacing:0.000px;-webkit-text-stroke:0.8px #000;transform:scaleX(1.0929);">5</div>
<div id="t80" class="t" style="left:1639.98px;top:1697.20px;font-size:28.5px;color:#2a2a2a;letter-spacing:0.000px;transform:scaleX(0.9606);">Push</div>
<div id="t81" class="t" style="left:1571.00px;top:1774.60px;font-size:28.5px;color:#000;letter-spacing:0.000px;-webkit-text-stroke:0.3px #000;transform:scaleX(1.2500);">/</div>
<div id="t82" class="t" style="left:1611.30px;top:1774.60px;font-size:28.5px;color:#000;letter-spacing:0.000px;-webkit-text-stroke:0.8px #000;transform:scaleX(0.9176);">Z</div>
<div id="t83" class="t" style="left:1640.87px;top:1774.60px;font-size:28.5px;color:#2a2a2a;letter-spacing:0.000px;transform:scaleX(1.0298);">Casambi</div>
<div id="t84" class="t" style="left:1636.58px;top:1731.20px;font-size:28.5px;color:#2a2a2a;letter-spacing:0.000px;transform:scaleX(1.0213);">(with or without memory)</div>
<div id="t85" class="t" style="left:718.98px;top:1894.60px;font-size:28.5px;color:#858585;letter-spacing:0.000px;-webkit-text-stroke:0.6px #858585;transform:scaleX(1.0585);">Materials</div>
<div id="t86" class="t" style="left:719.13px;top:1936.30px;font-size:28.5px;color:#2a2a2a;letter-spacing:0.000px;transform:scaleX(0.9869);">Diffuser: Opal Glass.</div>
<div id="t87" class="t" style="left:719.06px;top:1970.30px;font-size:28.5px;color:#2a2a2a;letter-spacing:0.000px;transform:scaleX(1.0201);">Metal parts: Aluminum.</div>
<div id="t88" class="t" style="left:719.07px;top:2024.30px;font-size:28.5px;color:#858585;letter-spacing:0.000px;-webkit-text-stroke:0.6px #858585;transform:scaleX(1.0157);">Light Source and electronics</div>
<div id="t89" class="t" style="left:720.01px;top:2068.60px;font-size:28.5px;color:#2a2a2a;letter-spacing:0.000px;transform:scaleX(0.9855);">2 x LED 19,8 W 800 mA</div>
<div id="t90" class="t" style="left:719.97px;top:2101.80px;font-size:28.5px;color:#2a2a2a;letter-spacing:0.000px;transform:scaleX(1.0300);">Constant Current 800 mA</div>
<div id="t91" class="t" style="left:717.71px;top:2135.10px;font-size:28.5px;color:#2a2a2a;letter-spacing:0.000px;transform:scaleX(1.0455);">100~240V</div>
<div id="t92" class="t" style="left:868.79px;top:2135.10px;font-size:28.5px;color:#2a2a2a;letter-spacing:-0.000px;transform:scaleX(1.1078);">50/60Hz</div>
<div id="t93" class="t" style="left:1456.64px;top:1894.30px;font-size:28.5px;color:#858585;letter-spacing:0.000px;-webkit-text-stroke:0.6px #858585;transform:scaleX(1.0319);">Packaging</div>
<div id="t94" class="t" style="left:1456.95px;top:1936.30px;font-size:28.5px;color:#2a2a2a;letter-spacing:0.000px;transform:scaleX(0.9535);">2 Boxes</div>
<div id="t95" class="t" style="left:1457.20px;top:1970.20px;font-size:28.5px;color:#2a2a2a;letter-spacing:0.000px;transform:scaleX(0.9744);">Total Vol 0,6051 m<span style="font-size:0.52em;position:relative;top:-0.52em">3</span></div>
<div id="t96" class="t" style="left:1456.92px;top:2004.70px;font-size:28.5px;color:#2a2a2a;letter-spacing:0.000px;transform:scaleX(0.9789);">Gross weight</div>
<div id="t97" class="t" style="left:1634.61px;top:2004.70px;font-size:28.5px;color:#2a2a2a;letter-spacing:0.000px;transform:scaleX(0.9917);">20,6 Kg</div>
<div id="t98" class="t" style="left:1746.46px;top:2004.70px;font-size:28.5px;color:#2a2a2a;letter-spacing:0.000px;transform:scaleX(1.0216);">Net weight</div>
<div id="t99" class="t" style="left:1898.51px;top:2004.70px;font-size:28.5px;color:#2a2a2a;letter-spacing:0.000px;transform:scaleX(0.8931);">17,6 Kg</div>
<div id="t100" class="t" style="left:1457.08px;top:2059.00px;font-size:28.5px;color:#858585;letter-spacing:0.000px;-webkit-text-stroke:0.6px #858585;transform:scaleX(1.0083);">Notes</div>
<div id="t101" class="t" style="left:1457.30px;top:2101.30px;font-size:28.5px;color:#2a2a2a;letter-spacing:0.000px;transform:scaleX(0.9971);">A colour glass diffuser can be placed in the lower</div>
<div id="t102" class="t" style="left:1456.29px;top:2134.70px;font-size:28.5px;color:#2a2a2a;letter-spacing:0.000px;transform:scaleX(1.0094);">glass for an amber or burgundy light effect.</div>
<div id="t103" class="t" style="left:1456.58px;top:2177.20px;font-size:28.5px;color:#2a2a2a;letter-spacing:0.000px;transform:scaleX(1.0078);">Electric cable 2 m.</div>
<div id="t104" class="t" style="left:226.50px;top:2337.90px;font-size:33px;color:#000;letter-spacing:0.000px;-webkit-text-stroke:0.8px #000;transform:scaleX(1.0799);">4970</div>
<div id="t105" class="t" style="left:720.08px;top:2338.40px;font-size:28.5px;color:#858585;letter-spacing:0.000px;-webkit-text-stroke:0.6px #858585;transform:scaleX(0.9608);">Finishes</div>
<div id="t106" class="t" style="left:717.76px;top:2381.50px;font-size:28.5px;color:#000;letter-spacing:0.000px;-webkit-text-stroke:0.8px #000;transform:scaleX(0.9723);">11/</div>
<div id="t107" class="t" style="left:803.20px;top:2381.50px;font-size:28.5px;color:#2a2a2a;letter-spacing:0.000px;transform:scaleX(1.0009);">Black</div>
<div id="t108" class="t" style="left:719.77px;top:2413.90px;font-size:28.5px;color:#939393;letter-spacing:0.000px;transform:scaleX(1.0269);">(NCS S 8500-N)</div>
<div id="t109" class="t" style="left:1033.69px;top:2337.40px;font-size:28.5px;color:#858585;letter-spacing:0.000px;-webkit-text-stroke:0.6px #858585;transform:scaleX(1.0046);">LED Colour Temperature</div>
<div id="t110" class="t" style="left:1035.20px;top:2379.40px;font-size:28.5px;color:#000;letter-spacing:0.000px;-webkit-text-stroke:0.8px #000;transform:scaleX(0.9599);">/1</div>
<div id="t111" class="t" style="left:1093.87px;top:2379.80px;font-size:28.5px;color:#2a2a2a;letter-spacing:0.000px;transform:scaleX(1.0267);">2700 K</div>
<div id="t112" class="t" style="left:1201.06px;top:2379.80px;font-size:28.5px;color:#2a2a2a;letter-spacing:0.000px;transform:scaleX(0.9375);">-</div>
<div id="t113" class="t" style="left:1225.16px;top:2379.80px;font-size:28.5px;color:#2a2a2a;letter-spacing:0.000px;transform:scaleX(1.0415);">5432,0 lm</div>
<div id="t114" class="t" style="left:1034.70px;top:2464.30px;font-size:28.5px;color:#2a2a2a;letter-spacing:-0.000px;transform:scaleX(1.0010);">CRI &gt;90</div>
<div id="t115" class="t" style="left:1456.64px;top:2338.40px;font-size:28.5px;color:#858585;letter-spacing:0.000px;-webkit-text-stroke:0.6px #858585;transform:scaleX(1.0576);">Control</div>
<div id="t116" class="t" style="left:1457.40px;top:2381.00px;font-size:28.5px;color:#000;letter-spacing:0.000px;-webkit-text-stroke:0.8px #000;transform:scaleX(1.0711);">4970</div>
<div id="t117" class="t" style="left:1573.60px;top:2381.00px;font-size:28.5px;color:#000;letter-spacing:0.000px;transform:scaleX(1.2500);">/</div>
<div id="t118" class="t" style="left:1571.00px;top:2451.30px;font-size:28.5px;color:#000;letter-spacing:0.000px;-webkit-text-stroke:0.3px #000;transform:scaleX(1.2500);">/</div>
<div id="t119" class="t" style="left:1609.50px;top:2451.30px;font-size:28.5px;color:#000;letter-spacing:0.000px;-webkit-text-stroke:0.8px #000;transform:scaleX(0.8500);">1</div>
<div id="t120" class="t" style="left:1636.34px;top:2451.30px;font-size:28.5px;color:#2a2a2a;letter-spacing:0.000px;transform:scaleX(0.9784);">DALI-2</div>
<div id="t121" class="t" style="left:1571.00px;top:2494.20px;font-size:28.5px;color:#000;letter-spacing:0.000px;-webkit-text-stroke:0.3px #000;transform:scaleX(1.2500);">/</div>
<div id="t122" class="t" style="left:1611.69px;top:2494.20px;font-size:28.5px;color:#000;letter-spacing:0.000px;-webkit-text-stroke:0.8px #000;transform:scaleX(1.0143);">3</div>
<div id="t123" class="t" style="left:1639.78px;top:2494.20px;font-size:28.5px;color:#2a2a2a;letter-spacing:0.000px;transform:scaleX(0.9103);">1-10V</div>
<div id="t124" class="t" style="left:1571.00px;top:2536.70px;font-size:28.5px;color:#000;letter-spacing:0.000px;-webkit-text-stroke:0.3px #000;transform:scaleX(1.2500);">/</div>
<div id="t125" class="t" style="left:1610.51px;top:2536.70px;font-size:28.5px;color:#000;letter-spacing:0.000px;-webkit-text-stroke:0.8px #000;transform:scaleX(1.0929);">5</div>
<div id="t126" class="t" style="left:1639.98px;top:2536.70px;font-size:28.5px;color:#2a2a2a;letter-spacing:0.000px;transform:scaleX(0.9606);">Push</div>
<div id="t127" class="t" style="left:1571.00px;top:2614.10px;font-size:28.5px;color:#000;letter-spacing:0.000px;-webkit-text-stroke:0.3px #000;transform:scaleX(1.2500);">/</div>
<div id="t128" class="t" style="left:1611.30px;top:2614.10px;font-size:28.5px;color:#000;letter-spacing:0.000px;-webkit-text-stroke:0.8px #000;transform:scaleX(0.9176);">Z</div>
<div id="t129" class="t" style="left:1640.87px;top:2614.10px;font-size:28.5px;color:#2a2a2a;letter-spacing:0.000px;transform:scaleX(1.0298);">Casambi</div>
<div id="t130" class="t" style="left:1636.58px;top:2570.70px;font-size:28.5px;color:#2a2a2a;letter-spacing:0.000px;transform:scaleX(1.0213);">(with or without memory)</div>
<div id="t131" class="t" style="left:718.98px;top:2733.30px;font-size:28.5px;color:#858585;letter-spacing:0.000px;-webkit-text-stroke:0.6px #858585;transform:scaleX(1.0585);">Materials</div>
<div id="t132" class="t" style="left:719.13px;top:2775.00px;font-size:28.5px;color:#2a2a2a;letter-spacing:0.000px;transform:scaleX(0.9869);">Diffuser: Opal Glass.</div>
<div id="t133" class="t" style="left:719.06px;top:2809.00px;font-size:28.5px;color:#2a2a2a;letter-spacing:0.000px;transform:scaleX(1.0201);">Metal parts: Aluminum.</div>
<div id="t134" class="t" style="left:719.07px;top:2863.00px;font-size:28.5px;color:#858585;letter-spacing:0.000px;-webkit-text-stroke:0.6px #858585;transform:scaleX(1.0157);">Light Source and electronics</div>
<div id="t135" class="t" style="left:720.01px;top:2907.30px;font-size:28.5px;color:#2a2a2a;letter-spacing:0.000px;transform:scaleX(0.9855);">2 x LED 19,8 W 800 mA</div>
<div id="t136" class="t" style="left:719.97px;top:2940.50px;font-size:28.5px;color:#2a2a2a;letter-spacing:0.000px;transform:scaleX(1.0300);">Constant Current 800 mA</div>
<div id="t137" class="t" style="left:717.71px;top:2973.80px;font-size:28.5px;color:#2a2a2a;letter-spacing:0.000px;transform:scaleX(1.0455);">100~240V</div>
<div id="t138" class="t" style="left:868.79px;top:2973.80px;font-size:28.5px;color:#2a2a2a;letter-spacing:-0.000px;transform:scaleX(1.1078);">50/60Hz</div>
<div id="t139" class="t" style="left:1456.64px;top:2733.00px;font-size:28.5px;color:#858585;letter-spacing:0.000px;-webkit-text-stroke:0.6px #858585;transform:scaleX(1.0319);">Packaging</div>
<div id="t140" class="t" style="left:1456.95px;top:2775.00px;font-size:28.5px;color:#2a2a2a;letter-spacing:0.000px;transform:scaleX(0.9535);">2 Boxes</div>
<div id="t141" class="t" style="left:1457.20px;top:2808.90px;font-size:28.5px;color:#2a2a2a;letter-spacing:0.000px;transform:scaleX(0.9744);">Total Vol 0,6051 m<span style="font-size:0.52em;position:relative;top:-0.52em">3</span></div>
<div id="t142" class="t" style="left:1456.92px;top:2843.40px;font-size:28.5px;color:#2a2a2a;letter-spacing:0.000px;transform:scaleX(0.9789);">Gross weight</div>
<div id="t143" class="t" style="left:1634.71px;top:2843.40px;font-size:28.5px;color:#2a2a2a;letter-spacing:0.000px;transform:scaleX(0.8921);">21,7 Kg</div>
<div id="t144" class="t" style="left:1736.05px;top:2843.40px;font-size:28.5px;color:#2a2a2a;letter-spacing:0.000px;transform:scaleX(1.0269);">Net weight</div>
<div id="t145" class="t" style="left:1888.16px;top:2843.40px;font-size:28.5px;color:#2a2a2a;letter-spacing:0.000px;transform:scaleX(0.9225);">18,7 Kg</div>
<div id="t146" class="t" style="left:1457.08px;top:2897.70px;font-size:28.5px;color:#858585;letter-spacing:0.000px;-webkit-text-stroke:0.6px #858585;transform:scaleX(1.0083);">Notes</div>
<div id="t147" class="t" style="left:1457.30px;top:2940.00px;font-size:28.5px;color:#2a2a2a;letter-spacing:0.000px;transform:scaleX(0.9971);">A colour glass diffuser can be placed in the lower</div>
<div id="t148" class="t" style="left:1456.29px;top:2973.40px;font-size:28.5px;color:#2a2a2a;letter-spacing:0.000px;transform:scaleX(1.0094);">glass for an amber or burgundy light effect.</div>
<div id="t149" class="t" style="left:1456.58px;top:3015.90px;font-size:28.5px;color:#2a2a2a;letter-spacing:0.000px;transform:scaleX(1.0078);">Electric cable 2 m.</div>
<div id="t150" class="t" style="left:326.00px;top:1319.80px;font-size:23px;color:#111;letter-spacing:0.000px;transform:scaleX(1.0559);">Ø 47,5 cm</div>
<div id="t151" class="t" style="left:343.00px;top:1939.00px;font-size:23px;color:#111;letter-spacing:0.000px;transform:scaleX(1.0285);">Ø 33 cm</div>
<div id="t152" class="t" style="left:332.40px;top:2141.50px;font-size:23px;color:#111;letter-spacing:0.000px;transform:scaleX(1.0235);">Ø 47,5 cm</div>
<div id="t153" class="t" style="left:331.00px;top:2973.80px;font-size:23px;color:#111;letter-spacing:0.000px;transform:scaleX(1.0187);">Ø 47,5 cm</div>
<div id="t154" class="t" style="left:1038.92px;top:743.80px;font-size:21.3px;color:#000;letter-spacing:0.000px;-webkit-text-stroke:0.9px #000;transform:scaleX(0.8786);">D</div>
<div id="t155" class="t" style="left:1462.91px;top:1404.40px;font-size:24.5px;color:#000;letter-spacing:0.000px;-webkit-text-stroke:0.8px #000;transform:scaleX(0.9451);">LED</div>
<div id="t156" class="t" style="left:1593.78px;top:1405.00px;font-size:22.6px;color:#000;letter-spacing:-0.000px;-webkit-text-stroke:0.5px #000;transform:scaleX(1.1090);">IP20</div>
<div id="t157" class="t" style="left:1889.15px;top:1403.90px;font-size:23.6px;color:#000;letter-spacing:0.000px;-webkit-text-stroke:0.5px #000;transform:scaleX(1.0501);">Dimmer</div>
<div id="t158" class="t" style="left:2009.55px;top:1403.90px;font-size:23.6px;color:#000;letter-spacing:0.000px;-webkit-text-stroke:0.5px #000;transform:scaleX(1.0524);">Bi-volt</div>
<div id="t159" class="t" style="left:1038.92px;top:1582.60px;font-size:21.3px;color:#000;letter-spacing:0.000px;-webkit-text-stroke:0.9px #000;transform:scaleX(0.8786);">D</div>
<div id="t160" class="t" style="left:1462.91px;top:2244.40px;font-size:24.5px;color:#000;letter-spacing:0.000px;-webkit-text-stroke:0.8px #000;transform:scaleX(0.9451);">LED</div>
<div id="t161" class="t" style="left:1593.78px;top:2245.00px;font-size:22.6px;color:#000;letter-spacing:-0.000px;-webkit-text-stroke:0.5px #000;transform:scaleX(1.1090);">IP20</div>
<div id="t162" class="t" style="left:1889.15px;top:2243.90px;font-size:23.6px;color:#000;letter-spacing:0.000px;-webkit-text-stroke:0.5px #000;transform:scaleX(1.0501);">Dimmer</div>
<div id="t163" class="t" style="left:2009.55px;top:2243.90px;font-size:23.6px;color:#000;letter-spacing:0.000px;-webkit-text-stroke:0.5px #000;transform:scaleX(1.0524);">Bi-volt</div>
<div id="t164" class="t" style="left:1038.92px;top:2421.30px;font-size:21.3px;color:#000;letter-spacing:0.000px;-webkit-text-stroke:0.9px #000;transform:scaleX(0.8786);">D</div>
<div id="t165" class="t" style="left:1462.91px;top:3084.20px;font-size:24.5px;color:#000;letter-spacing:0.000px;-webkit-text-stroke:0.8px #000;transform:scaleX(0.9451);">LED</div>
<div id="t166" class="t" style="left:1593.78px;top:3084.80px;font-size:22.6px;color:#000;letter-spacing:-0.000px;-webkit-text-stroke:0.5px #000;transform:scaleX(1.1090);">IP20</div>
<div id="t167" class="t" style="left:1889.15px;top:3083.70px;font-size:23.6px;color:#000;letter-spacing:0.000px;-webkit-text-stroke:0.5px #000;transform:scaleX(1.0501);">Dimmer</div>
<div id="t168" class="t" style="left:2009.55px;top:3083.70px;font-size:23.6px;color:#000;letter-spacing:0.000px;-webkit-text-stroke:0.5px #000;transform:scaleX(1.0524);">Bi-volt</div>
</div>
</body></html>
